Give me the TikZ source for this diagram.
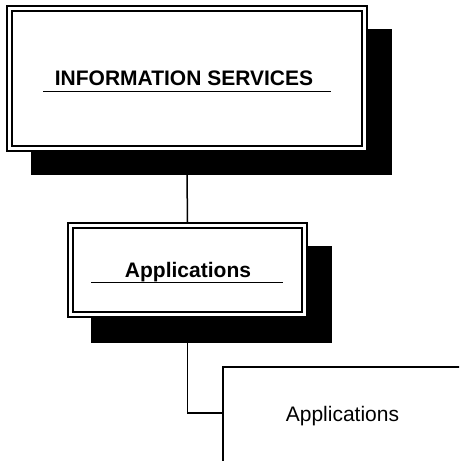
\documentclass[tikz,border=0pt]{standalone}
\usepackage{fontspec}
\setmainfont{Liberation Sans}
\begin{document}
\begin{tikzpicture}[x=1pt,y=-1pt,
  shadowbox/.style={fill=black,draw=none,inner sep=0pt,outer sep=0pt},
  framebox/.style={draw=black,fill=white,line width=2pt,double=white,double distance=3pt,inner sep=0pt,outer sep=0pt},
  heading/.style={font=\fontsize{21}{25}\selectfont\bfseries,inner sep=0pt,anchor=base},
  plain/.style={font=\fontsize{21}{25}\selectfont,inner sep=0pt,anchor=base},
  conn/.style={line width=1.5pt,draw=black},
  uline/.style={line width=1.6pt,draw=black}]
\useasboundingbox (0,0) rectangle (459,461);
\clip (0,0) rectangle (459,461);
% connectors (behind)
\coordinate (subin) at (223,413);
% shadows
\node[shadowbox,minimum width=361pt,minimum height=146pt] (isshadow) at (211.5,102) {};
\node[shadowbox,minimum width=241pt,minimum height=97pt] (appshadow) at (211.5,294.5) {};
% boxes
\node[framebox,minimum width=355pt,minimum height=140pt] (is) at (187,78.5) {};
\node[framebox,minimum width=234pt,minimum height=89pt] (app) at (187.5,270) {};
\draw[conn] (187,175) -- (187.5,222);
\draw[conn] (app.south |- appshadow.south) |- (subin);
% third box (extends beyond the page)
\draw[conn] (223,470) -- (223,367) -- (470,367);
% texts
\node[heading] (istext) at (184,85) {INFORMATION SERVICES};
\draw[uline] (43,91.5) -- (331,91.5);
\node[heading] (apptext) at (188,277) {Applications};
\draw[uline] (91,282.5) -- (283,282.5);
\node[plain] (subtext) at (342.5,421) {Applications};
\end{tikzpicture}
\end{document}
